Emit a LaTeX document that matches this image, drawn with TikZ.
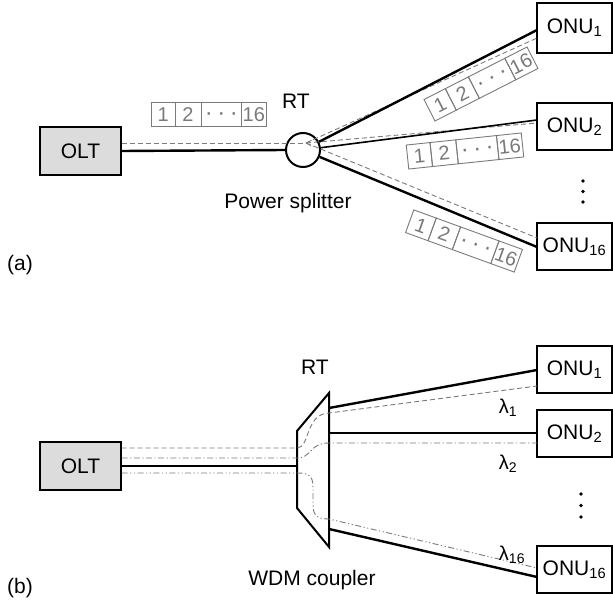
\documentclass[tikz,border=0pt]{standalone}
\usepackage{fontspec}
\setmainfont{Liberation Sans}
\usetikzlibrary{calc}
\definecolor{linegray}{HTML}{7A7A7A}
\definecolor{boxfill}{HTML}{DCDCDC}
\newcommand\pcell[2]{{\fboxsep=0pt\fboxrule=0.9pt\fbox{\makebox[#1pt][c]{\rule[-4.5pt]{0pt}{23.2pt}#2}}}}
\newcommand\packetrow{\fontsize{20}{22}\selectfont\pcell{23}{1}\kern-0.9pt\pcell{25}{2}\kern-0.9pt\pcell{40}{\raisebox{1pt}{\fontsize{24}{24}\selectfont ·\kern4.5pt·\kern4.5pt·}}\kern-0.9pt\pcell{24}{\kern-1pt16}}
\begin{document}
\begin{tikzpicture}[x=1pt,y=-1pt,
  box/.style={draw,line width=1.2pt,minimum width=75pt,inner sep=0pt,font=\fontsize{21}{23}\selectfont},
  onubox/.style={box,minimum height=47pt},
  oltbox/.style={box,fill=boxfill,minimum width=81pt,minimum height=48pt},
  fiber/.style={line width=2.4pt},
  dashedsig/.style={draw=linegray,line width=0.9pt,dash pattern=on 5pt off 3pt},
  dashdot/.style={draw=linegray,line width=0.9pt,dash pattern=on 6pt off 2.5pt on 1.2pt off 2.5pt},
  dashdotdot/.style={draw=linegray,line width=0.9pt,dash pattern=on 6pt off 2.5pt on 1.2pt off 2.5pt on 1.2pt off 2.5pt},
  packet/.style={inner sep=0pt,text=linegray},
  lbl/.style={font=\fontsize{21}{23}\selectfont,inner sep=0pt},
  lam/.style={font=\fontsize{20}{22}\selectfont,inner sep=0pt},
  dotv/.style={circle,fill=black,inner sep=0pt,minimum size=3.6pt}]
\useasboundingbox (0,0) rectangle (613,601);

% ---------------- (a) ----------------
\node[oltbox] (olta) at (80.5,151) {OLT};
\node[draw,circle,line width=2pt,minimum size=34pt,inner sep=0pt] (sp) at (303,150) {};
\node[box,minimum height=50pt] (onua1) at (574.5,28) {ONU\textsubscript{1}};
\node[onubox] (onua2) at (574.5,126.5) {ONU\textsubscript{2}};
\node[onubox] (onua16) at (574.5,246.5) {ONU\textsubscript{16}};

\node[lbl] (rta) at (296,101) {RT};
\node[lbl] (psl) at (288,203) {Power splitter};
\node[lbl] (la) at (20,265) {(a)};

\coordinate (hub) at (306,143);
\coordinate (a1s) at (537,30);
\coordinate (a1d) at (537,38);
\coordinate (a2s) at (537,120);
\coordinate (a2d) at (537,123);
\coordinate (a16s) at (537,247);
\coordinate (a16d) at (537,238);

\draw[dashedsig] (olta.east |- hub) -- (hub);
\draw[dashedsig] (hub) -- (a1d);
\draw[dashedsig] (hub) -- (a2d);
\draw[dashedsig] (hub) -- (a16d);
\draw[linegray,line width=0.6pt] (hub) -- ++(6,-3) (hub) -- ++(5,3);
\draw[fiber] (olta.east) -- (sp.west);
\draw[fiber] (sp) -- (a1s);
\draw[fiber,line width=1.6pt] (sp) -- (a2s);
\draw[fiber] (sp) -- (a16s);

\node[packet] (pk0) at (209,114.5) {\packetrow};
\node[packet,rotate=27] (pk1) at (481,84) {\packetrow};
\node[packet,rotate=6] (pk2) at (465,151) {\packetrow};
\node[packet,rotate=-20] (pk3) at (464,241) {\packetrow};

\node[dotv] (da1) at (583,181) {};
\node[dotv] (da2) at (583,191.5) {};
\node[dotv] (da3) at (583,202) {};

% ---------------- (b) ----------------
\node[oltbox] (oltb) at (80.5,466) {OLT};
\node[box,minimum height=47pt] (onub1) at (574.5,369.5) {ONU\textsubscript{1}};
\node[onubox] (onub2) at (574.5,433.5) {ONU\textsubscript{2}};
\node[onubox] (onub16) at (574.5,569.5) {ONU\textsubscript{16}};

\node[lbl] (rtb) at (315,367) {RT};
\node[lbl] (wdm) at (312,580) {WDM coupler};
\node[lbl] (lb) at (20,588) {(b)};

\coordinate (tl) at (297,431);
\coordinate (tr) at (329,393);
\coordinate (br) at (329,547);
\coordinate (bl) at (297,508);
\draw[line width=2pt,line join=miter] (tl) -- (tr) -- (br) -- (bl) -- cycle;

\coordinate (b1s) at (537,370);
\coordinate (b1d) at (537,386);
\coordinate (b2s) at (537,433);
\coordinate (b2d) at (537,443);
\coordinate (b16s) at (537,577);
\coordinate (b16d) at (537,568);

\draw[fiber] (oltb.east) -- (297,466);
\draw[dashedsig] ($(oltb.east)+(0,-18)$) -- (297,448) .. controls (310,448) and (305,414) .. (329,413) -- (b1d);
\draw[dashdot] ($(oltb.east)+(0,-8)$) -- (297,458) .. controls (312,458) and (309,443) .. (329,443) -- (b2d);
\draw[dashdotdot] ($(oltb.east)+(0,7)$) -- (297,473) .. controls (312,473) and (313,478) .. (313,490) -- (313,505) .. controls (313,516) and (318,519) .. (329,519) -- (b16d);
\draw[fiber] (329,408) -- (b1s);
\draw[fiber] (329,433) -- (b2s);
\draw[fiber] (329,529) -- (b16s);

\node[lam] (l1) at (508,408) {λ\textsubscript{1}};
\node[lam] (l2) at (508,464) {λ\textsubscript{2}};
\node[lam] (l16) at (512,555) {λ\textsubscript{16}};

\node[dotv] (db1) at (581,494) {};
\node[dotv] (db2) at (581,505.5) {};
\node[dotv] (db3) at (581,517) {};
\end{tikzpicture}
\end{document}
